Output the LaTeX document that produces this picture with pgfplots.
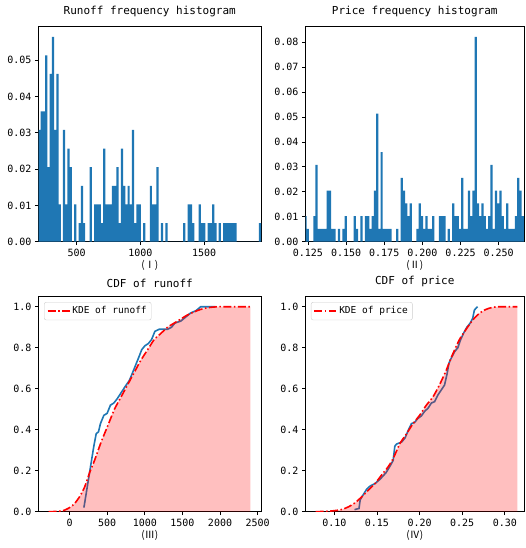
\documentclass[border=0pt]{standalone}
\usepackage{pgfplots}
\pgfplotsset{compat=1.18}
\usepackage{fontspec}
\setmainfont{DejaVu Sans Mono}
\newfontfamily\cjk{Noto Sans CJK SC}
\definecolor{c0}{HTML}{1F77B4}
\pgfplotsset{
  myax/.style={
    scale only axis,
    width=222.5pt, height=215pt,
    anchor=south west,
    axis line style={line width=0.8pt},
    tick align=outside,
    tick pos=left,
    major tick length=3.5pt,
    major tick style={line width=0.8pt, black},
    scaled ticks=false,
    /pgf/number format/assume math mode=true,
    /pgf/number format/1000 sep={},
    tick label style={font=\fontsize{10}{12}\selectfont},
    title style={font=\fontsize{11}{13}\selectfont},
    xlabel style={font=\cjk\fontsize{10}{12}\selectfont, yshift=3pt},
    ymin=0,
  },
  rightax/.style={myax, width=218.5pt},
  cdfleg/.style={
    legend style={at={(0.025,0.975)}, anchor=north west, draw=black!20, rounded corners=2pt,
      font=\fontsize{9.5}{11}\selectfont, inner sep=2.5pt},
    legend cell align=left,
    legend image code/.code={\draw[##1] (0pt,0pt) -- (22pt,0pt);},
  },
  kde/.style={red, line width=1.6pt, dash pattern=on 8pt off 2.5pt on 1.5pt off 2.5pt},
}
\begin{document}
\begin{tikzpicture}
\useasboundingbox (0,0) rectangle (525pt,548pt);

% ---------------- Runoff histogram ----------------
\begin{axis}[myax, at={(38.5pt,306.3pt)},
  xmin=200, xmax=1947, ymax=0.0592,
  xtick={500,1000,1500},
  ytick={0,0.01,0.02,0.03,0.04,0.05},
  yticklabel style={/pgf/number format/.cd, fixed, fixed zerofill, precision=2},
  title={Runoff frequency histogram},
  xlabel={(Ⅰ)}]
\addplot[ybar interval, fill=c0, draw=none] table {
x y
200.0 0.0308
217.5 0.0359
234.9 0.0359
252.4 0.0513
269.9 0.0205
287.4 0.0462
304.8 0.0564
322.3 0.0308
339.8 0.0462
357.2 0.0103
374.7 0
392.2 0.0308
409.6 0.0103
427.1 0.0256
444.6 0.0205
462.1 0
479.5 0.0103
497.0 0
514.5 0.0051
531.9 0.0154
549.4 0.0051
566.9 0
584.3 0
601.8 0.0205
619.3 0
636.8 0.0103
654.2 0.0103
671.7 0.0103
689.2 0.0051
706.6 0.0256
724.1 0.0103
741.6 0.0103
759.0 0.0103
776.5 0.0154
794.0 0.0154
811.5 0.0205
828.9 0.0051
846.4 0.0256
863.9 0.0154
881.3 0.0103
898.8 0.0154
916.3 0.0103
933.7 0.0308
951.2 0.0051
968.7 0.0103
986.2 0.0103
1003.6 0
1021.1 0.0051
1038.6 0
1056.0 0
1073.5 0.0154
1091.0 0.0103
1108.4 0.0103
1125.9 0.0205
1143.4 0
1160.9 0.0051
1178.3 0
1195.8 0.0051
1213.3 0
1230.7 0
1248.2 0
1265.7 0
1283.1 0
1300.6 0
1318.1 0
1335.6 0.0051
1353.0 0
1370.5 0.0103
1388.0 0.0103
1405.4 0.0051
1422.9 0
1440.4 0
1457.8 0.0103
1475.3 0.0051
1492.8 0.0051
1510.3 0
1527.7 0.0051
1545.2 0.0051
1562.7 0.0103
1580.1 0.0051
1597.6 0
1615.1 0.0051
1632.5 0
1650.0 0.0051
1667.5 0.0051
1685.0 0.0051
1702.4 0.0051
1719.9 0.0051
1737.4 0.0051
1754.8 0
1772.3 0
1789.8 0
1807.2 0
1824.7 0
1842.2 0
1859.7 0
1877.1 0
1894.6 0
1912.1 0
1929.5 0.0051
1947.0 0
};
\end{axis}

% ---------------- Price histogram ----------------
\begin{axis}[rightax, at={(305.5pt,306.3pt)},
  xmin=0.1234, xmax=0.2666, ymax=0.0862,
  xtick={0.125,0.150,0.175,0.200,0.225,0.250},
  xticklabel style={/pgf/number format/.cd, fixed, fixed zerofill, precision=3},
  ytick={0,0.01,0.02,0.03,0.04,0.05,0.06,0.07,0.08},
  yticklabel style={/pgf/number format/.cd, fixed, fixed zerofill, precision=2},
  title={Price frequency histogram},
  xlabel={(Ⅱ)}]
\addplot[ybar interval, fill=c0, draw=none] table {
x y
0.12260 0.0103
0.12407 0.0051
0.12554 0
0.12701 0
0.12848 0.0103
0.12995 0.0308
0.13141 0.0051
0.13288 0.0051
0.13435 0.0051
0.13582 0.0051
0.13729 0.0205
0.13876 0.0205
0.14023 0.0051
0.14170 0.0051
0.14317 0
0.14464 0.0051
0.14610 0
0.14757 0.0051
0.14904 0.0103
0.15051 0
0.15198 0
0.15345 0
0.15492 0.0103
0.15639 0.0051
0.15786 0
0.15933 0.0103
0.16079 0
0.16226 0.0103
0.16373 0.0103
0.16520 0.0051
0.16667 0.0103
0.16814 0.0205
0.16961 0.0513
0.17108 0.0051
0.17255 0.0359
0.17402 0.0051
0.17548 0.0051
0.17695 0.0051
0.17842 0.0051
0.17989 0
0.18136 0
0.18283 0.0051
0.18430 0
0.18577 0.0256
0.18724 0.0205
0.18871 0.0154
0.19017 0.0103
0.19164 0.0154
0.19311 0
0.19458 0
0.19605 0.0051
0.19752 0.0154
0.19899 0.0103
0.20046 0.0051
0.20193 0.0103
0.20340 0.0051
0.20486 0.0051
0.20633 0.0103
0.20780 0
0.20927 0
0.21074 0.0103
0.21221 0.0103
0.21368 0.0103
0.21515 0
0.21662 0.0051
0.21809 0
0.21955 0.0154
0.22102 0.0103
0.22249 0.0103
0.22396 0.0051
0.22543 0.0256
0.22690 0.0051
0.22837 0.0051
0.22984 0.0205
0.23131 0.0103
0.23278 0.0205
0.23424 0.0821
0.23571 0.0154
0.23718 0.0103
0.23865 0.0154
0.24012 0.0103
0.24159 0.0051
0.24306 0.0103
0.24453 0.0308
0.24600 0.0051
0.24747 0.0205
0.24893 0.0154
0.25040 0.0205
0.25187 0.0103
0.25334 0.0051
0.25481 0.0154
0.25628 0.0051
0.25775 0.0051
0.25922 0.0051
0.26069 0.0103
0.26216 0.0256
0.26362 0.0205
0.26509 0.0103
0.26656 0
};
\end{axis}

% ---------------- CDF of runoff ----------------
\begin{axis}[myax, cdfleg, at={(38.5pt,36.3pt)},
  xmin=-414, xmax=2545, ymax=1.049,
  xtick={0,500,1000,1500,2000,2500},
  ytick={0,0.2,0.4,0.6,0.8,1.0},
  yticklabel style={/pgf/number format/.cd, fixed, fixed zerofill, precision=1},
  title={CDF of runoff},
  xlabel={(Ⅲ)}]
\addplot[c0, line width=1.6pt, forget plot] coordinates {
(190,0.02) (234,0.12) (278,0.22) (322,0.32) (353,0.38) (384,0.39) (410,0.43)
(455,0.47) (499,0.48) (543,0.52) (587,0.53) (631,0.55) (684,0.58) (737,0.61)
(794,0.64) (839,0.68) (883,0.72) (927,0.76) (958,0.79) (1002,0.81) (1046,0.82)
(1090,0.84) (1134,0.88) (1191,0.89) (1302,0.89) (1355,0.90) (1399,0.92)
(1478,0.93) (1545,0.95) (1611,0.97) (1677,0.98) (1743,1.0) (1942,1.0)
};
\addplot[kde, smooth, tension=0.4] coordinates {
(-280,0) (-200,0.001) (-88,0.005) (0,0.02) (66,0.04) (132,0.073) (199,0.12)
(265,0.19) (331,0.25) (419,0.34) (508,0.42) (596,0.50) (684,0.56) (772,0.62)
(860,0.68) (949,0.74) (1037,0.79) (1125,0.84) (1214,0.87) (1302,0.90)
(1390,0.92) (1478,0.94) (1567,0.96) (1655,0.975) (1743,0.987) (1831,0.995)
(1964,1.0) (2100,1.0) (2250,1.0) (2405,1.0)
};
\addlegendentry{KDE of runoff}
\addplot[draw=none, fill=red, fill opacity=0.25, forget plot, smooth, tension=0.4] coordinates {
(-280,0) (-200,0.001) (-88,0.005) (0,0.02) (66,0.04) (132,0.073) (199,0.12)
(265,0.19) (331,0.25) (419,0.34) (508,0.42) (596,0.50) (684,0.56) (772,0.62)
(860,0.68) (949,0.74) (1037,0.79) (1125,0.84) (1214,0.87) (1302,0.90)
(1390,0.92) (1478,0.94) (1567,0.96) (1655,0.975) (1743,0.987) (1831,0.995)
(1964,1.0) (2100,1.0) (2250,1.0) (2405,1.0)
} \closedcycle;
\end{axis}

% ---------------- CDF of price ----------------
\begin{axis}[rightax, cdfleg, at={(305.5pt,36.3pt)},
  xmin=0.0662, xmax=0.3225, ymax=1.049,
  xtick={0.10,0.15,0.20,0.25,0.30},
  xticklabel style={/pgf/number format/.cd, fixed, fixed zerofill, precision=2},
  ytick={0,0.2,0.4,0.6,0.8,1.0},
  yticklabel style={/pgf/number format/.cd, fixed, fixed zerofill, precision=1},
  title={CDF of price},
  xlabel={(Ⅳ)}]
\addplot[c0, line width=1.6pt, forget plot] coordinates {
(0.1237,0.01) (0.129,0.016) (0.1303,0.057) (0.132,0.07) (0.138,0.11)
(0.142,0.125) (0.148,0.138) (0.154,0.16) (0.1606,0.19) (0.165,0.22)
(0.169,0.25) (0.171,0.32) (0.173,0.33) (0.179,0.34) (0.183,0.36)
(0.187,0.40) (0.1905,0.43) (0.194,0.435) (0.198,0.455) (0.202,0.467)
(0.206,0.49) (0.21,0.505) (0.2138,0.53) (0.2177,0.537) (0.2216,0.57)
(0.2255,0.594) (0.2293,0.618) (0.2324,0.675) (0.2344,0.724) (0.237,0.748)
(0.241,0.78) (0.2449,0.80) (0.2476,0.834) (0.2515,0.87) (0.2553,0.899)
(0.2592,0.919) (0.2623,0.943) (0.2643,0.984) (0.268,1.0)
};
\addplot[kde, smooth, tension=0.4] coordinates {
(0.078,0) (0.0915,0.002) (0.10,0.005) (0.109,0.011) (0.1167,0.024)
(0.1245,0.044) (0.1322,0.073) (0.14,0.106) (0.1478,0.138) (0.1555,0.179)
(0.1633,0.22) (0.1691,0.26) (0.177,0.333) (0.1847,0.38) (0.1924,0.43)
(0.2,0.47) (0.208,0.52) (0.2157,0.56) (0.2235,0.62) (0.2313,0.69)
(0.235,0.73) (0.239,0.77) (0.2468,0.84) (0.2546,0.89) (0.2623,0.935)
(0.27,0.967) (0.2778,0.987) (0.2856,0.997) (0.2934,1.0) (0.3148,1.0)
};
\addlegendentry{KDE of price}
\addplot[draw=none, fill=red, fill opacity=0.25, forget plot, smooth, tension=0.4] coordinates {
(0.078,0) (0.0915,0.002) (0.10,0.005) (0.109,0.011) (0.1167,0.024)
(0.1245,0.044) (0.1322,0.073) (0.14,0.106) (0.1478,0.138) (0.1555,0.179)
(0.1633,0.22) (0.1691,0.26) (0.177,0.333) (0.1847,0.38) (0.1924,0.43)
(0.2,0.47) (0.208,0.52) (0.2157,0.56) (0.2235,0.62) (0.2313,0.69)
(0.235,0.73) (0.239,0.77) (0.2468,0.84) (0.2546,0.89) (0.2623,0.935)
(0.27,0.967) (0.2778,0.987) (0.2856,0.997) (0.2934,1.0) (0.3148,1.0)
} \closedcycle;
\end{axis}
\end{tikzpicture}
\end{document}
